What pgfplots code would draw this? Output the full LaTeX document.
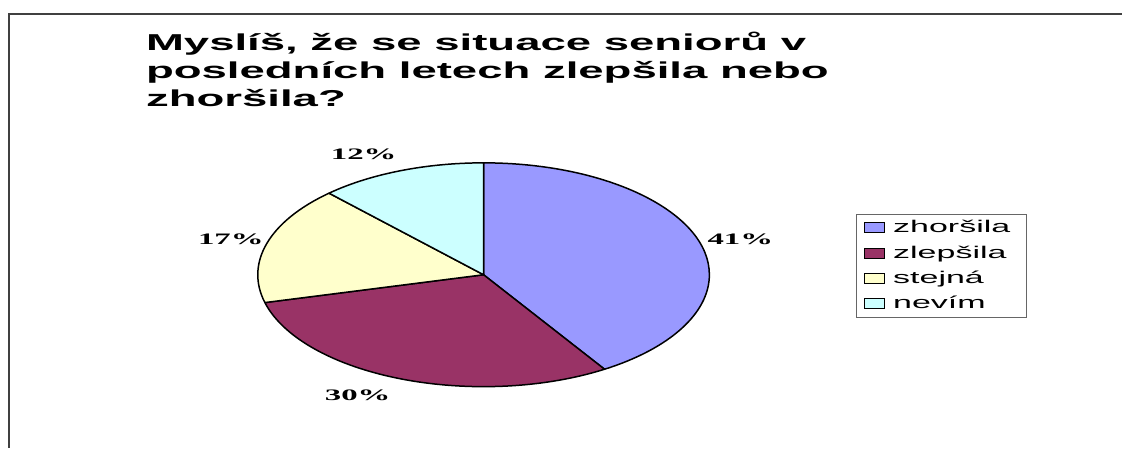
\documentclass[border=0pt]{standalone}
\usepackage{pgfplots}
\usepackage{pgfplotstable}
\pgfplotsset{compat=1.18}
\usepackage{fontspec}
\setmainfont{Liberation Sans}
\newfontfamily\titlefont{Liberation Sans}[FakeStretch=1.98]
\newfontfamily\legfont{Liberation Sans}[FakeStretch=2.0]
\newfontfamily\lblfont{Liberation Serif}[FakeStretch=2.05]
\newcommand\legtxt{\legfont\fontsize{17}{20}\selectfont}

\definecolor{pA}{HTML}{9999FF}
\definecolor{pB}{HTML}{993366}
\definecolor{pC}{HTML}{FFFFCC}
\definecolor{pD}{HTML}{CCFFFF}

% share in percent, slice colour, label position (px)
\pgfplotstableread{
name value col lx ly
zhoršila 41 pA 741 240
zlepšila 30 pB 358 396
stejná 17 pC 231 240
nevím 12 pD 364 154
}\pietab

\begin{document}
\begin{tikzpicture}
\begin{axis}[
    at={(0,0)}, anchor=south west,
    scale only axis, width=1123pt, height=448pt,
    xmin=0, xmax=1123, ymin=0, ymax=448, y dir=reverse,
    hide axis, clip=false,
    legend image code/.code={%
        \path[draw=none, fill=none] (0pt,-6pt) rectangle (26pt,6pt);
        \draw[#1, draw=black, line width=1pt] (0pt,-5pt) rectangle (20pt,5pt);},
    legend cell align=left,
    legend style={at={(axis cs:857,214)}, anchor=north west,
        draw=black!60, line width=1pt,
        inner xsep=7.5pt, inner ysep=2pt, row sep=2.3pt, column sep=0pt,
        nodes={inner sep=2.5pt, text height=14pt, text depth=4pt}},
]
\path (axis cs:0,0) rectangle (axis cs:1123,448);
\draw[line width=2pt, black!75] (axis cs:9,448) -- (axis cs:9,14) -- (axis cs:1123,14);

\xdef\cum{0}
\pgfplotsinvokeforeach{0,...,3}{%
  \pgfplotstablegetelem{#1}{value}\of\pietab \let\sliceval=\pgfplotsretval
  \pgfplotstablegetelem{#1}{col}\of\pietab \let\slicecol=\pgfplotsretval
  \pgfplotstablegetelem{#1}{lx}\of\pietab \let\labx=\pgfplotsretval
  \pgfplotstablegetelem{#1}{ly}\of\pietab \let\laby=\pgfplotsretval
  \pgfmathsetmacro{\aA}{90-3.6*\cum}
  \pgfmathsetmacro{\aB}{90-3.6*(\cum+\sliceval)}
  \edef\doslice{\noexpand\fill[fill=\slicecol, draw=black, line width=1.5pt, line join=round]
     (axis cs:484,275) -- ++(\aA:226pt and 112pt)
     arc[start angle=\aA, end angle=\aB, x radius=226pt, y radius=112pt] -- cycle;
     \noexpand\node[inner sep=0pt, font={\noexpand\lblfont\noexpand\bfseries\noexpand\fontsize{16}{19}\noexpand\selectfont}]
     at (axis cs:\labx,\laby) {\sliceval\noexpand\%};}
  \doslice
  \pgfmathparse{\cum+\sliceval}\xdef\cum{\pgfmathresult}
}

\node[anchor=base west, inner sep=0pt, font={\titlefont\bfseries\fontsize{23}{28}\selectfont}] at (axis cs:146,51) {Myslíš, že se situace seniorů v};
\node[anchor=base west, inner sep=0pt, font={\titlefont\bfseries\fontsize{23}{28}\selectfont}] at (axis cs:146,79) {posledních letech zlepšila nebo};
\node[anchor=base west, inner sep=0pt, font={\titlefont\bfseries\fontsize{23}{28}\selectfont}] at (axis cs:146,107) {zhoršila?};

\addlegendimage{fill=pA}\addlegendentry{\legtxt zhoršila\hspace*{6pt}}
\addlegendimage{fill=pB}\addlegendentry{\legtxt zlepšila}
\addlegendimage{fill=pC}\addlegendentry{\legtxt stejná}
\addlegendimage{fill=pD}\addlegendentry{\legtxt nevím}
\end{axis}
\end{tikzpicture}
\end{document}
